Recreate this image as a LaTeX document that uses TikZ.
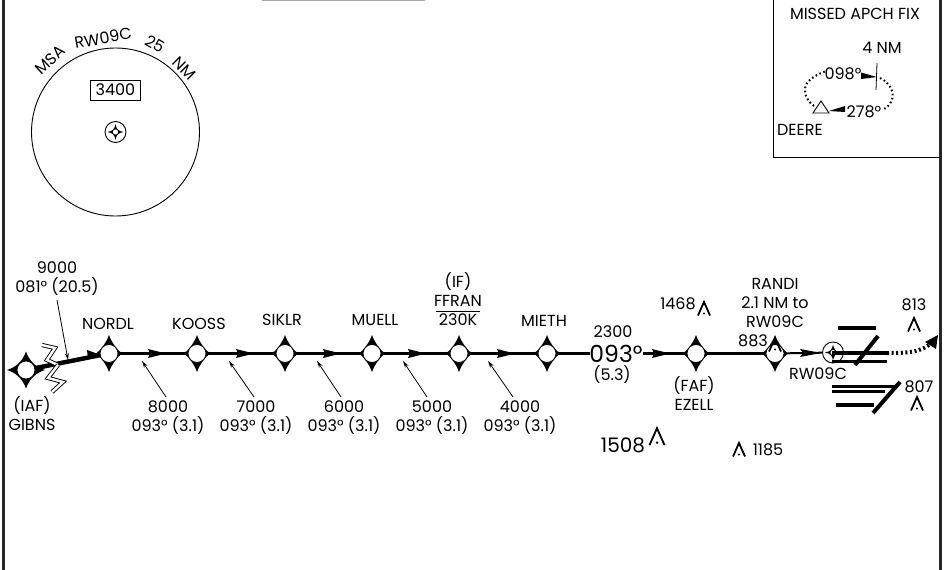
\documentclass[tikz,border=0pt]{standalone}
\usepackage{fontspec}
\setmainfont{Poppins}
\usetikzlibrary{arrows.meta,backgrounds}
\tikzset{
  lbl/.style={align=center,inner sep=0pt,font=\fontsize{16}{19}\selectfont},
  biglbl/.style={inner sep=0pt,font=\fontsize{20}{22}\selectfont},
  hugelbl/.style={inner sep=0pt,font=\fontsize{23.5}{26}\selectfont},
  fixnode/.style={circle,draw=black,line width=.8pt,fill=white,minimum size=18pt,inner sep=0pt},
  track/.style={line width=3.6pt,draw=black},
  leader/.style={line width=.8pt,-{Stealth[length=7pt,width=4pt]}},
  bar/.style={line width=4pt,draw=black},
  obst/.style={line width=1.8pt,line join=miter},
  brk/.style={double=white,draw=black,line width=.9pt,double distance=2.4pt,line join=miter},
}
\newcommand{\starshape}[4]{% x y horizontal vertical
  \fill[black,shift={(#1,#2)}] (-#3,0) .. controls (-9,-3) and (-3,-10) .. (0,-#4)
     .. controls (3,-10) and (9,-3) .. (#3,0)
     .. controls (9,3) and (3,10) .. (0,#4)
     .. controls (-3,10) and (-9,3) .. (-#3,0) -- cycle;}
\newcommand{\smallstar}[2]{%
  \fill[black,shift={(#1,#2)}] (-8,0) .. controls (-3,-.7) and (-.7,-3) .. (0,-8)
     .. controls (.7,-3) and (3,-.7) .. (8,0)
     .. controls (3,.7) and (.7,3) .. (0,8)
     .. controls (-.7,3) and (-3,.7) .. (-8,0) -- cycle;
  \fill[white,shift={(#1,#2)}] (0,0) circle (2.6);}
\newcommand{\fixat}[3]{\starshape{#2}{#3}{13}{18.5}\node[fixnode] (#1) at (#2,#3) {};}
\newcommand{\obstacle}[4][1]{%
  \begin{scope}[shift={(#2,#3)},scale=#1]
    \draw[obst,#4] (-6,6.5) -- (0,-7) -- (6,6.5);
    \fill[#4] (0,4.5) circle (1.1);
  \end{scope}}
\begin{document}
\begin{tikzpicture}[x=1pt,y=-1pt]
\useasboundingbox (0,0) rectangle (950,570);
% frame
\draw[line width=3pt,black!85] (3.5,0) -- (3.5,570);
\draw[line width=3pt,black!85] (940,0) -- (940,570);
\draw[line width=1pt,black!35] (262,.4) -- (425,.4);
% MSA
\node[circle,draw,line width=.9pt,minimum size=168pt,inner sep=0pt] (msa) at (115.5,132) {};
\node[lbl,rotate=43] (tmsa) at (50,60) {MSA};
\node[lbl,rotate=10] (trw) at (103,38) {RW09C};
\node[lbl,rotate=-30] (t25) at (155,44) {25};
\node[lbl,rotate=-45] (tnm) at (184,68) {NM};
\node[lbl,draw,line width=.9pt,minimum width=50pt,minimum height=20pt] (msabox) at (115.5,90) {3400};
\draw[line width=.9pt] (115.5,132) circle (10.5);
\smallstar{115.5}{132}
% missed approach box
\coordinate (bxa) at (773,0);
\coordinate (bxb) at (773,157);
\coordinate (bxc) at (940,157);
\draw[line width=1pt] (bxa) -- (bxb) -- (bxc);
\node[lbl] (title) at (855,14) {MISSED APCH FIX};
\node[lbl] (fournm) at (882,48) {4 NM};
\node[lbl] (h098) at (843,73.5) {098°};
\node[lbl] (h278) at (864,112) {278°};
\node[lbl] (deere) at (800,130) {DEERE};
\draw[line width=.9pt] (813,113) -- (821,101) -- (829,113) -- cycle;
\coordinate (fa) at (877,63);
\coordinate (fb) at (876,90);
\draw[line width=.8pt] (fa) -- (fb);
\fill (861,72.5) -- (877,77) -- (861,79) -- cycle;
\fill (845,106) -- (829,111) -- (845,112) -- cycle;
\draw[line width=2pt,dash pattern=on 1.6pt off 2.6pt] (814,106) .. controls (803,98) and (802,85) .. (811,79) .. controls (815,76) and (820,73) .. (825,71.5);
\draw[line width=2pt,dash pattern=on 1.6pt off 2.6pt] (880,78) .. controls (893,84) and (899,100) .. (884,109);
% fixes
\starshape{26}{370}{19}{18.5}
\node[fixnode] (gibns) at (26,370) {};
\fixat{nordl}{109}{353.5}
\fixat{kooss}{197}{353.5}
\fixat{siklr}{285}{353.5}
\fixat{muell}{372}{353.5}
\fixat{ffran}{459}{353.5}
\fixat{mieth}{547}{353.5}
\fixat{ezell}{696}{353.5}
\fixat{randi}{775}{353.5}
\node[circle,draw,line width=.9pt,fill=white,minimum size=21pt,inner sep=0pt] (rwy) at (833,352.5) {};
\smallstar{833}{352.5}
% tracks
\begin{scope}[on background layer]
\coordinate (m0) at (101,355);
\coordinate (e6) at (590,353.5);
\coordinate (s6) at (643,353.5);
\draw[track,line width=4.5pt] (gibns) -- (m0);
\draw[track] (nordl) -- (kooss);
\draw[track] (kooss) -- (siklr);
\draw[track] (siklr) -- (muell);
\draw[track] (muell) -- (ffran);
\draw[track] (ffran) -- (mieth);
\draw[track] (mieth) -- (e6);
\draw[track] (s6) -- (ezell);
\draw[track] (ezell) -- (randi);
\draw[line width=2pt] (randi) -- (rwy);
\end{scope}
\fill (87,350) -- (101,355) -- (88,359) -- cycle;
\foreach \t in {166,254,341,426,515,670}{
  \fill (\t-18,349) .. controls (\t-10,351) .. (\t,353.5) .. controls (\t-10,356) .. (\t-18,358) -- (\t-16,353.5) -- cycle;
}
\fill (800,349) .. controls (810,351) .. (821,353) .. controls (810,355) .. (800,357) -- (803,353) -- cycle;
% break
\draw[brk] (42,345) -- (55,348) -- (47,360) -- (58,365);
\draw[brk] (58,365) -- (48,378) -- (63,382) -- (52,392);
% leaders
\coordinate (la) at (57,300);  \coordinate (lb) at (68,360);
\coordinate (l1a) at (166,397); \coordinate (l1b) at (142,361);
\coordinate (l2a) at (254,397); \coordinate (l2b) at (229,361);
\coordinate (l3a) at (341,397); \coordinate (l3b) at (317,361);
\coordinate (l4a) at (427,397); \coordinate (l4b) at (403,361);
\coordinate (l5a) at (513,397); \coordinate (l5b) at (488,361);
\draw[leader] (la) -- (lb);
\draw[leader] (l1a) -- (l1b);
\draw[leader] (l2a) -- (l2b);
\draw[leader] (l3a) -- (l3b);
\draw[leader] (l4a) -- (l4b);
\draw[leader] (l5a) -- (l5b);
% labels
\node[lbl] (t0) at (57,279) {9000\\081° (20.5)};
\node[lbl] (n1) at (108,324) {NORDL};
\node[lbl] (n2) at (199,324) {KOOSS};
\node[lbl] (n3) at (282,320) {SIKLR};
\node[lbl] (n4) at (375,320) {MUELL};
\node[lbl] (n5a) at (458,282) {(IF)};
\node[lbl] (n5b) at (458,301) {FFRAN};
\coordinate (ula) at (436,311); \coordinate (ulb) at (480,311);
\draw[line width=1pt] (ula) -- (ulb);
\node[lbl] (n5c) at (458,320) {230K};
\node[lbl] (n6) at (544,321) {MIETH};
\node[lbl] (a1) at (168,418) {8000\\093° (3.1)};
\node[lbl] (a2) at (256,418) {7000\\093° (3.1)};
\node[lbl] (a3) at (344,418) {6000\\093° (3.1)};
\node[lbl] (a4) at (432,418) {5000\\093° (3.1)};
\node[lbl] (a5) at (520,418) {4000\\093° (3.1)};
\node[lbl] (iaf) at (32,414) {(IAF)\\GIBNS};
\node[lbl] (alt) at (613,332) {2300};
\node[hugelbl] (hdg) at (616,354) {093°};
\node[lbl] (dist) at (612,375) {(5.3)};
\node[lbl] (faf) at (694,394) {(FAF)\\EZELL};
\node[lbl] (ran) at (775,303) {RANDI\\2.1 NM to\\RW09C};
\node[lbl] (e883) at (753,341) {883};
\node[lbl] (rwlab) at (818,373.5) {RW09C};
\node[lbl] (e1468) at (678,304) {1468};
\node[lbl] (e813) at (914,305) {813};
\node[lbl] (e807) at (919,387) {807};
\node[biglbl] (e1508) at (623,445) {1508};
\node[lbl] (e1185) at (768,450) {1185};
% obstacles
\obstacle{704}{309}{black}
\obstacle{775}{345}{black}
\obstacle{914}{325}{black}
\obstacle{917}{404}{black}
\obstacle[1.25]{657}{437}{black}
\obstacle{739}{450}{black}
% runway
\coordinate (r1a) at (838,328); \coordinate (r1b) at (876,328);
\coordinate (r2a) at (855,365); \coordinate (r2b) at (878,336);
\coordinate (r3a) at (832,353); \coordinate (r3b) at (887,353);
\coordinate (r4a) at (832,361); \coordinate (r4b) at (887,361);
\coordinate (r5a) at (832,386); \coordinate (r5b) at (897,386);
\coordinate (r6a) at (832,391); \coordinate (r6b) at (885,391);
\coordinate (r7a) at (873,413); \coordinate (r7b) at (900,382);
\coordinate (r8a) at (836,405); \coordinate (r8b) at (874,405);
\draw[bar] (r1a) -- (r1b);
\draw[bar] (r2a) -- (r2b);
\draw[bar] (r3a) -- (r3b);
\draw[bar,line width=3pt] (r4a) -- (r4b);
\draw[bar,line width=3pt] (r5a) -- (r5b);
\draw[bar,line width=3pt] (r6a) -- (r6b);
\draw[bar] (r7a) -- (r7b);
\draw[bar] (r8a) -- (r8b);
% missed approach track
\draw[line width=4pt,dash pattern=on 2pt off 2.6pt] (r3b) .. controls (905,353) and (922,353) .. (932,342);
\fill (938,335) -- (925,342) -- (936,349) -- cycle;
\end{tikzpicture}
\end{document}
